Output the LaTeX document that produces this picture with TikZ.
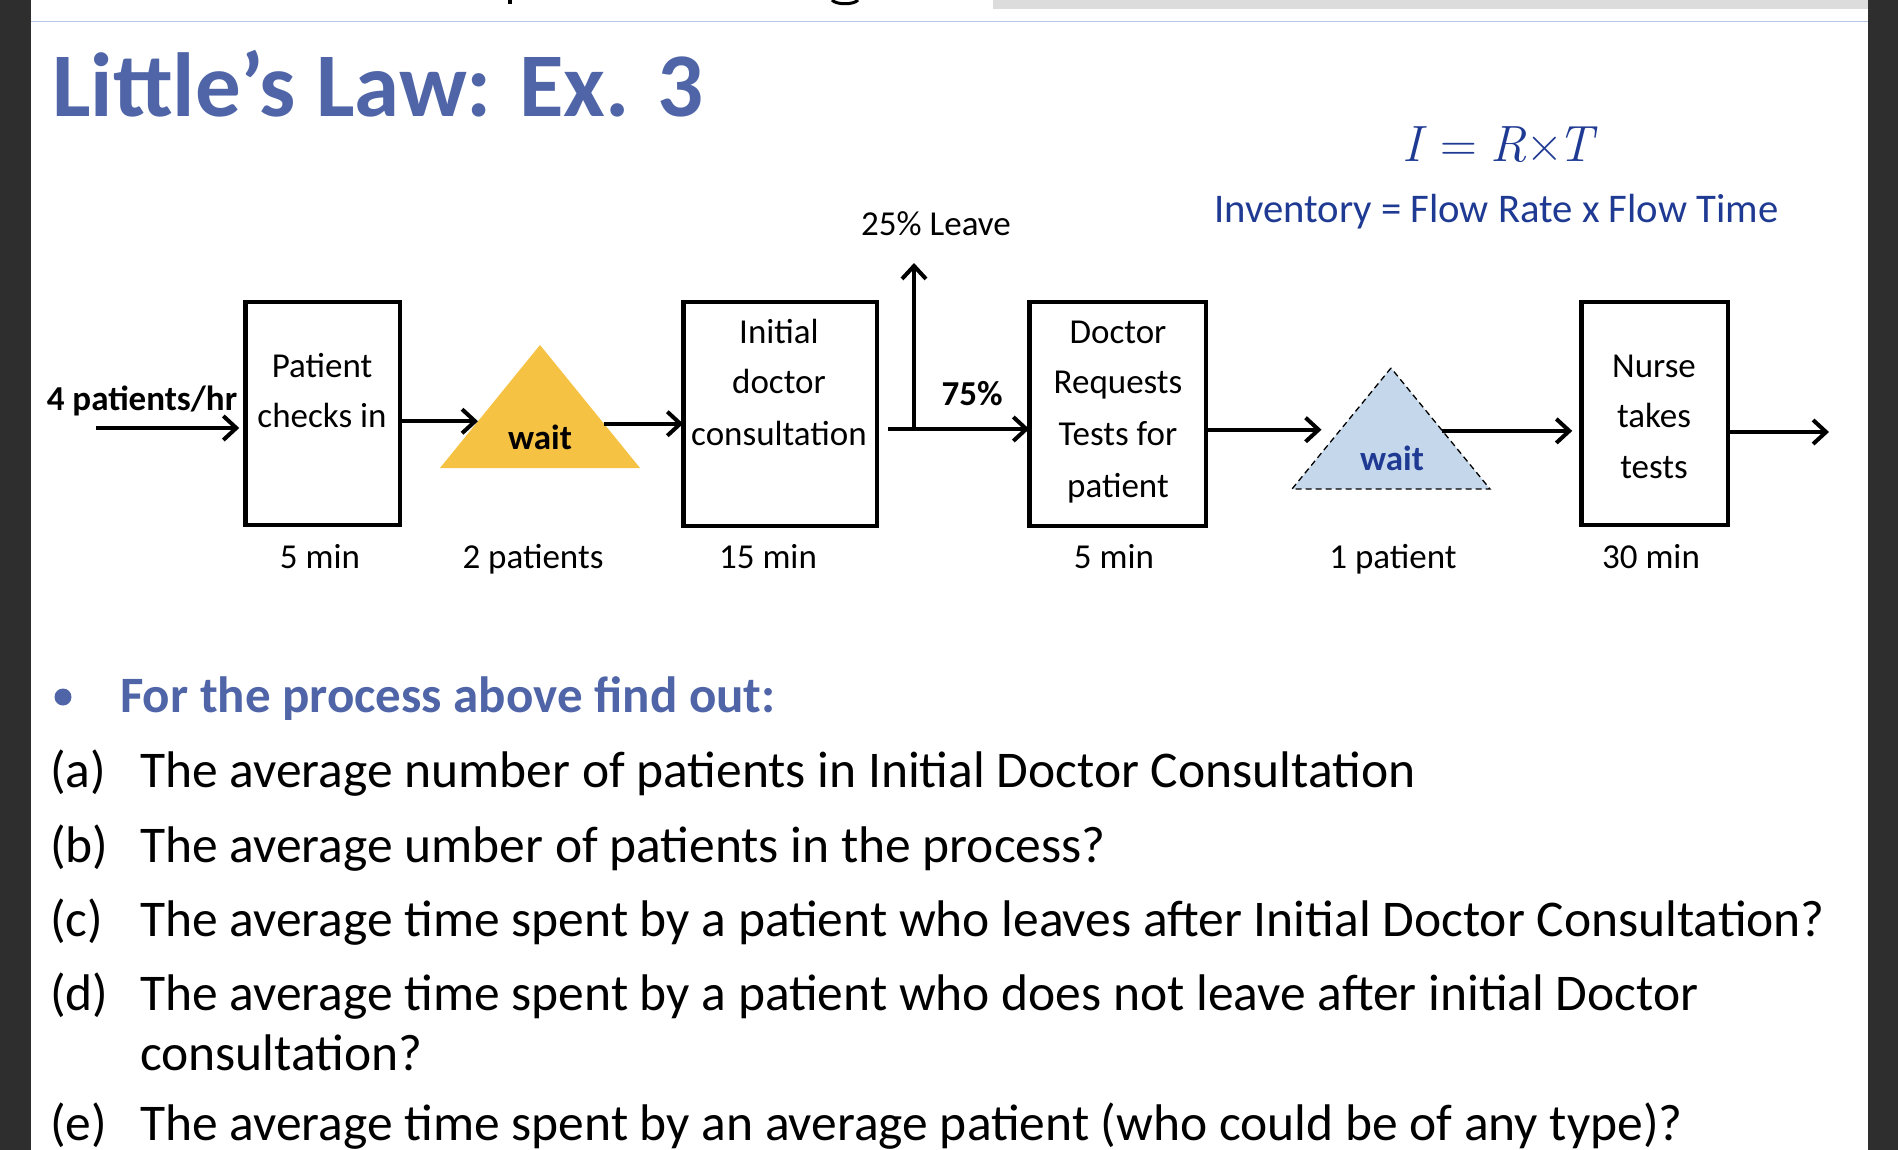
\documentclass[tikz,border=0pt]{standalone}
\usepackage{fontspec}
\setmainfont{Carlito}
\newfontfamily\lmfont{Latin Modern Roman}
\usetikzlibrary{arrows.meta,shapes.geometric,calc}
\definecolor{titleblue}{RGB}{79,101,168}
\definecolor{darkblue}{RGB}{31,58,147}
\definecolor{triyellow}{RGB}{245,194,67}
\definecolor{trifill}{RGB}{197,215,235}
\definecolor{topline}{RGB}{180,199,231}
\definecolor{graybar}{RGB}{220,220,220}
\definecolor{darkband}{RGB}{46,46,46}
\begin{document}
\begin{tikzpicture}[x=1pt,y=-1pt,
  box/.style={draw=black, line width=4.5pt, inner sep=0pt, outer sep=0pt},
  lbl/.style={inner sep=0pt, anchor=base, font=\fontsize{35}{42}\selectfont},
  blbl/.style={inner sep=0pt, anchor=base, font=\fontsize{35}{42}\selectfont\bfseries},
  flow/.style={line width=4pt, -{Straight Barb[length=13pt,width=24pt]}},
  tri/.style={isosceles triangle, isosceles triangle stretches, shape border rotate=90, inner sep=0pt, outer sep=0pt, anchor=apex},
  q/.style={inner sep=0pt, anchor=base west, font=\fontsize{51.5}{60}\selectfont},
]
\fill[white] (0,0) rectangle (1898,1150);
\useasboundingbox (0,0) rectangle (1898,1150);
\fill[darkband] (0,0) rectangle (31,1150);
\fill[darkband] (1868,0) rectangle (1898,1150);
\fill[graybar] (993,0) rectangle (1868,9);
\draw[topline, line width=1.5pt] (31,21.7) -- (1868,21.7);
\fill[black] (508,0) rectangle (512,4);
\draw[black, line width=3pt] (832,0) .. controls (836,5) and (854,5) .. (858,0);

% title and formula
\node[anchor=base west, inner sep=0pt, text=titleblue, font=\fontsize{91}{100}\selectfont\bfseries] (title) at (52,117) {Little’s Law: Ex. 3};
\node[anchor=base west, inner sep=0pt, text=darkblue, font=\lmfont\fontsize{51}{60}\selectfont] (eq) at (1402,162) {\itshape I\hspace{0.38em}\upshape =\hspace{0.25em}\itshape R\upshape ×\hspace{-0.12em}\itshape T};
\node[anchor=base west, inner sep=0pt, text=darkblue, font=\fontsize{40.7}{48}\selectfont] (inv) at (1214,223) {Inventory = Flow Rate x Flow Time};

% boxes
\node[box, minimum width=154.5pt, minimum height=222.5pt] (b1) at (322.5,413.5) {};
\node[box, minimum width=193.5pt, minimum height=223.5pt] (b2) at (780,414) {};
\node[box, minimum width=176.5pt, minimum height=223.5pt] (b3) at (1117.5,414) {};
\node[box, minimum width=146.5pt, minimum height=222.5pt] (b4) at (1654.5,413.5) {};

% triangles
\node[tri, fill=triyellow, minimum width=200pt, minimum height=123pt] (t1) at (540,345) {};
\node[tri, fill=trifill, draw=black, line width=1.3pt, dash pattern=on 6pt off 4pt, minimum width=198pt, minimum height=121pt] (t2) at (1391,368) {};

% box texts
\node[lbl] (b1l1) at (322,377) {Patient};
\node[lbl] (b1l2) at (322,427) {checks in};
\node[lbl] (b2l1) at (779,343) {Initial};
\node[lbl] (b2l2) at (779,393) {doctor};
\node[lbl] (b2l3) at (779,445) {consultation};
\node[lbl] (b3l1) at (1118,343) {Doctor};
\node[lbl] (b3l2) at (1118,393) {Requests};
\node[lbl] (b3l3) at (1118,445) {Tests for};
\node[lbl] (b3l4) at (1118,497) {patient};
\node[lbl] (b4l1) at (1654,377) {Nurse};
\node[lbl] (b4l2) at (1654,427) {takes};
\node[lbl] (b4l3) at (1654,478) {tests};
\node[blbl] (w1) at (540,449) {wait};
\node[blbl, text=darkblue] (w2) at (1392,470) {wait};

% under labels
\node[lbl] (u1) at (320,568) {5 min};
\node[lbl] (u2) at (533,568) {2 patients};
\node[lbl] (u3) at (768,568) {15 min};
\node[lbl] (u4) at (1114,568) {5 min};
\node[lbl] (u5) at (1393,568) {1 patient};
\node[lbl] (u6) at (1651,568) {30 min};

% other labels
\node[blbl] (rate) at (142,410) {4 patients/hr};
\node[blbl] (p75) at (972,405) {75\%};
\node[lbl] (leave) at (936,236) {25\% Leave};

% connectors
\coordinate (inS) at (96,428);
\draw[flow, shorten >=6pt] (inS) -- (inS -| b1.west);
\coordinate (t1i) at ($(t1.left corner)!0.38!(t1.apex)$);
\draw[flow] (b1.east |- t1i) -- (t1i);
\coordinate (t1o) at ($(t1.right corner)!0.36!(t1.apex)$);
\draw[flow] (t1o) -- (t1o -| b2.west);
\coordinate (j) at ($(b2.east |- 0,429)+(11,0)$);
\draw[flow] (j) -- (j -| b3.west);
\coordinate (lv) at (914,263);
\draw[flow] (lv |- j) -- (lv);
\coordinate (t2i) at ($(t2.left corner)!0.49!(t2.apex)$);
\draw[flow, shorten >=19pt] (b3.east |- t2i) -- (t2i);
\coordinate (t2o) at ($(t2.right corner)!0.48!(t2.apex)$);
\draw[flow, shorten >=9pt] (t2o) -- (t2o -| b4.west);
\coordinate (outE) at (1829,432);
\draw[flow] (b4.east |- outE) -- (outE);

% questions
\node[circle, fill=titleblue, minimum size=17pt, inner sep=0pt] (bul) at (63,697) {};
\node[anchor=base west, inner sep=0pt, text=titleblue, font=\fontsize{51}{60}\selectfont\bfseries] (head) at (120,712) {For the process above find out:};
\node[q] (qa) at (50,787) {(a)};
\node[q] (ta) at (140,787) {The average number of patients in Initial Doctor Consultation};
\node[q] (qb) at (50,862) {(b)};
\node[q] (tb) at (140,862) {The average umber of patients in the process?};
\node[q] (qc) at (50,936) {(c)};
\node[q] (tc) at (140,936) {The average time spent by a patient who leaves after Initial Doctor Consultation?};
\node[q] (qd) at (50,1010) {(d)};
\node[q] (td) at (140,1010) {The average time spent by a patient who does not leave after initial Doctor};
\node[q] (td2) at (140,1070) {consultation?};
\node[q] (qe) at (50,1140) {(e)};
\node[q] (te) at (140,1140) {The average time spent by an average patient (who could be of any type)?};
\end{tikzpicture}
\end{document}
